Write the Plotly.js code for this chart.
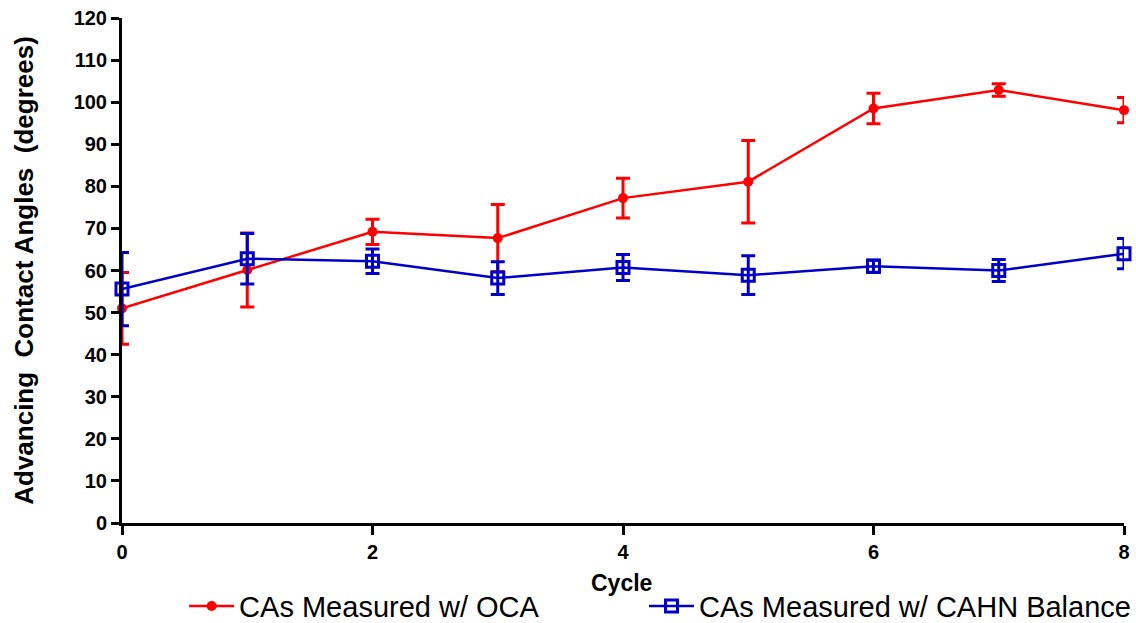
<!DOCTYPE html>
<html>
<head>
<meta charset="utf-8">
<script src="https://cdn.plot.ly/plotly-3.0.1.min.js"></script>
<style>html,body{margin:0;padding:0;background:#fff;}#chart{width:1136px;height:623px;}</style>
</head>
<body>
<div id="chart"></div>
<script>
const cycles = [0, 1, 2, 3, 4, 5, 6, 7, 8];
const ocaMean = [51.0, 60.1, 69.2, 67.7, 77.2, 81.1, 98.5, 102.9, 98.1];
const ocaErr  = [8.5, 8.8, 3.0, 8.0, 4.7, 9.8, 3.6, 1.5, 3.0];
const cahnMean = [55.6, 62.8, 62.2, 58.2, 60.7, 58.9, 61.0, 60.0, 64.0];
const cahnErr  = [8.7, 6.0, 2.9, 3.9, 3.1, 4.6, 1.5, 2.6, 3.6];
const xTicks = [0, 2, 4, 6, 8];
const yTicks = [0, 10, 20, 30, 40, 50, 60, 70, 80, 90, 100, 110, 120];
const xTitle = 'Cycle';
const yTitle = 'Advancing  Contact Angles  (degrees)';

const RED = '#ff0000';
const BLUE = '#0000c8';
const FONT = 'Liberation Sans, Arial, sans-serif';

const traces = [
  {
    x: cycles, y: ocaMean, type: 'scatter', mode: 'lines+markers',
    name: 'CAs Measured w/ OCA', legend: 'legend',
    line: {color: RED, width: 2.5},
    marker: {color: RED, size: 10, symbol: 'circle'},
    error_y: {type: 'data', array: ocaErr, visible: true, color: RED, thickness: 3, width: 7},
    cliponaxis: false
  },
  {
    x: cycles, y: cahnMean, type: 'scatter', mode: 'lines+markers',
    name: 'CAs Measured w/ CAHN Balance', legend: 'legend2',
    line: {color: BLUE, width: 2.5},
    marker: {color: BLUE, size: 12, symbol: 'square-open', line: {color: BLUE, width: 3}},
    error_y: {type: 'data', array: cahnErr, visible: true, color: BLUE, thickness: 3, width: 7},
    cliponaxis: false
  }
];

const legendCommon = {
  orientation: 'h', xref: 'paper', yref: 'container',
  yanchor: 'middle', y: 0.027, itemwidth: 45,
  bgcolor: 'rgba(0,0,0,0)',
  font: {family: FONT, size: 29, color: '#000'}
};

const layout = {
  width: 1136, height: 623,
  margin: {l: 122, r: 12, t: 18, b: 100},
  paper_bgcolor: '#fff', plot_bgcolor: '#fff',
  showlegend: true,
  legend: Object.assign({}, legendCommon, {x: 0.062, xanchor: 'left'}),
  legend2: Object.assign({}, legendCommon, {x: 0.522, xanchor: 'left'}),
  annotations: [{
    text: xTitle, xref: 'paper', yref: 'paper', x: 0.499, y: -0.119,
    xanchor: 'center', yanchor: 'middle', showarrow: false,
    font: {family: FONT, size: 23, weight: 700, color: '#000'}
  }],
  xaxis: {
    range: [0, 8], tickvals: xTicks, ticktext: xTicks.map(String),
    showgrid: false, zeroline: false,
    showline: true, linecolor: '#000', linewidth: 3,
    ticks: 'outside', ticklen: 9, tickwidth: 3, tickcolor: '#000',
    tickfont: {family: FONT, size: 20, weight: 700, color: '#000'}
  },
  yaxis: {
    range: [0, 120], tickvals: yTicks, ticktext: yTicks.map(String),
    showgrid: false, zeroline: false,
    showline: true, linecolor: '#000', linewidth: 3,
    ticks: 'outside', ticklen: 8, tickwidth: 3, tickcolor: '#000',
    tickfont: {family: FONT, size: 20, weight: 700, color: '#000'},
    title: {text: yTitle, font: {family: FONT, size: 26, weight: 700, color: '#000'}, standoff: 33}
  }
};

Plotly.newPlot('chart', traces, layout, {displayModeBar: false, staticPlot: true});
</script>
</body>
</html>
